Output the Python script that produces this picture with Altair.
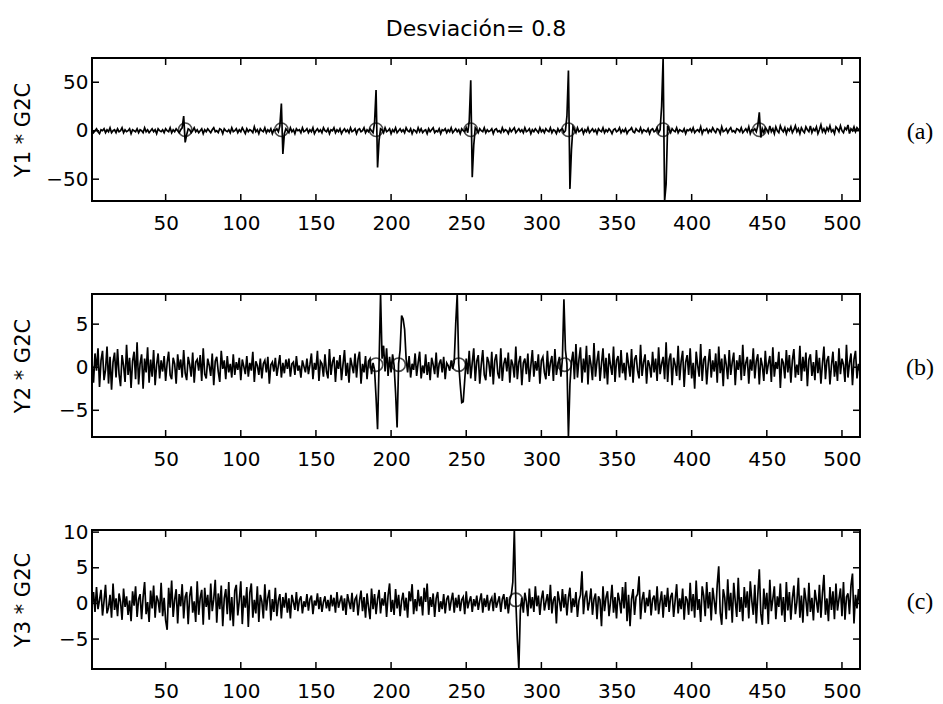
import altair as alt
import pandas as pd

XTICKS = [50, 100, 150, 200, 250, 300, 350, 400, 450, 500]

# ---- panel (a): Y1 * G2C ----
Y1 = [
    1, -2, 0, 2, -1, -3, 1, 0, 2, -2, 1, -1, 3, -2, 0, 1,
    -2, 2, -1, 0, 3, -2, 1, -1, 0, 2, -3, 1, 0, -1, 2, -2,
    1, 0, -2, 3, -1, 1, -2, 0, 2, -1, 1, -3, 2, 0, -1, 1,
    -2, 2, 0, -1, 3, -2, 1, -1, 2, 0, -2, 1, 3, 15, -12, -4,
    2, 1, -2, 0, 3, -1, 1, -2, 0, 2, -3, 1, -1, 2, 0, -2,
    1, 3, -1, 0, -2, 2, 1, -3, 2, 0, -1, 1, -2, 3, -1, 0,
    2, -2, 1, -1, 3, 0, -3, 2, -1, 1, 0, -2, 4, -1, 1, -3,
    2, 0, -1, 3, -2, 1, -1, 2, -3, 1, 0, 2, -1, 5, 28, -24,
    -3, 2, 0, -2, 3, -1, 1, -3, 2, 0, 1, -2, 3, -1, 0, 2,
    -2, 1, -1, 3, -3, 0, 2, -1, 1, -2, 3, 0, -1, 2, -3, 1,
    0, 3, -2, 1, -1, 2, -3, 0, 2, -1, 1, -2, 3, -1, 0, 2,
    -3, 1, 2, -1, 0, 3, -2, 1, -1, 2, 0, -2, 8, 42, -38, -10,
    2, 1, -2, 3, -1, 0, 2, -3, 1, -1, 3, -2, 0, 2, -1, 1,
    -2, 3, 0, -1, 2, -3, 1, 0, -2, 3, -1, 2, -2, 0, 1, -3,
    2, -1, 1, 3, -2, 0, -1, 2, -3, 1, 0, 2, -2, 1, -1, 3,
    -2, 0, 2, -1, 1, -3, 2, 0, -1, 3, -2, 10, 52, -48, -15, 3,
    1, -2, 2, 0, -1, 3, -2, 1, -1, 0, 2, -3, 1, 2, -1, 0,
    -2, 3, -1, 1, 0, -3, 2, -1, 1, 3, -2, 0, 2, -1, 1, -2,
    3, -1, 0, 2, -3, 1, -1, 2, 0, -2, 3, -1, 1, -2, 2, 0,
    -1, 3, -2, 1, 0, -3, 2, -1, 1, 2, -2, 0, 15, 62, -60, -20,
    4, 1, -2, 3, -1, 0, 2, -3, 1, -1, 3, -2, 0, 2, -1, 1,
    -3, 2, 0, -1, 3, -2, 1, -1, 2, 0, -3, 1, 2, -1, 0, 3,
    -2, 1, -1, 2, -3, 0, 1, 3, -1, -2, 2, 0, -1, 3, -2, 1,
    0, -1, 2, -3, 1, 2, -1, 0, 3, -2, 1, 25, 75, -72.5, -55, 5,
    1, -2, 2, 0, -1, 3, -2, 1, 0, -1, 2, -3, 1, 0, 2, -1,
    3, -2, 0, 1, -1, 4, -3, 1, 0, 2, -2, 1, -1, 3, 0, -2,
    2, 1, -3, 4, -1, 0, 2, -2, 1, 3, -1, 0, -2, 2, 1, -1,
    3, -2, 0, 2, -1, 4, -3, 1, 0, 2, -1, 5, 19, -7, 2, -2,
    3, 1, -2, 5, -1, 2, -3, 4, 0, -2, 5, 1, -1, 3, -3, 2,
    0, 4, -2, 1, 5, -1, 2, -3, 3, 0, -2, 4, 1, -1, 5, -2,
    2, 0, 4, -3, 1, 6, -1, 2, -2, 3, 0, 5, -1, 1, -3, 4,
    2, -1, 5, 0, -2, 3, 1, 6, -3, 2, 0, 4, -1, 3, 1, 2,
]
C1_X = [63, 127, 190, 253, 318, 381, 445]
C1_Y = [1, 1, 1, 1, 1, 1, 1]
YT1 = [-50, 0, 50]

# ---- panel (b): Y2 * G2C ----
Y2 = [
    0.5, -1.8, 1.6, -0.4, 2.2, -2.3, 0.8, 1.9, -1.5, -0.3, 2.4, -1.9, 1.2, -2.6, 0.6, 1.7,
    -1.2, 2.1, -0.8, -2.2, 1.4, 0.2, -1.7, 2.6, -0.9, 1.1, -2.4, 0.7, 1.8, -1.4, 2.9, -2.0,
    0.4, 1.5, -2.5, 1.0, -0.6, 2.3, -1.8, 0.9, -1.1, 2.0, -2.1, 0.3, 1.6, -1.3, 0.8, -0.5,
    1.3, -1.6, 0.5, 1.8, -0.9, -1.4, 1.1, 0.4, -1.9, 1.5, -0.3, 0.9, -1.2, 2.0, -0.7, -1.5,
    1.2, 0.3, -1.1, 1.7, -1.8, 0.6, 0.9, -0.4, 1.4, -1.6, 2.2, -0.8, -1.3, 1.0, 0.2, -1.0,
    1.6, -2.1, 0.7, 1.2, -0.5, -1.7, 1.9, -0.2, 0.8, -1.4, 1.3, -0.6, 0.4, -1.2, 1.5, -0.9,
    0.6, -0.3, 1.1, -1.5, 0.9, 0.1, -0.8, 1.3, -1.1, 0.5, -0.4, 1.8, -1.7, 0.7, 0.2, -0.9,
    1.0, -1.3, 0.4, 0.8, -0.6, 1.2, -1.9, 0.3, 0.6, -0.5, 1.1, -1.0, 0.2, 1.4, -1.2, 0.5,
    -0.7, 0.9, -0.2, 1.0, -1.1, 0.4, 0.6, -0.9, 1.3, -0.4, 0.2, -1.2, 0.8, 0.1, -0.6, 1.0,
    -0.8, 0.3, 1.6, -1.4, 0.5, -0.3, 1.9, -1.6, 0.7, 0.4, -1.1, 1.5, -0.5, -1.3, 2.1, -0.9,
    0.6, 1.2, -1.7, 0.8, -0.2, 1.4, -1.5, 0.3, 2.0, -1.0, 0.5, -1.8, 1.1, 0.2, -0.7, 1.6,
    -1.2, 0.9, 1.8, -1.9, 0.4, -0.6, 1.3, -1.4, 0.7, 1.0, -0.8, 0.5, -0.3, -3.5, -7.2, 0.4,
    8.5, 1.0, 2.5, -0.5, 2.2, -1.0, 1.2, -0.6, 1.5, 0.2, -3.0, -7.0, 0.4, 2.0, 6.0, 5.6,
    4.4, 1.0, -0.6, 1.3, -1.2, 0.4, -0.3, 1.6, -1.0, 0.5, 1.8, -1.3, 0.2, -0.7, 1.5, -0.9,
    0.6, -1.5, 1.1, 0.3, -0.8, 1.7, -1.2, 0.4, 0.9, -0.6, 1.2, -1.4, 0.5, 0.2, -0.4, 0.8,
    -0.2, 0.6, 5.0, 8.5, 0.4, -2.0, -4.1, -4.0, -1.5, 1.0, -0.8, 1.9, -1.3, 0.5, 2.2, -1.6,
    0.7, 1.4, -1.9, 0.3, 2.0, -0.9, -1.5, 1.2, 0.6, -1.1, 1.8, -2.0, 0.8, 1.5, -0.7, -1.3,
    2.2, -1.6, 0.4, 1.1, -0.5, 1.7, -1.8, 0.9, 0.3, -1.2, 2.4, -1.4, 0.6, 1.3, -2.1, 0.5,
    1.0, -0.8, 1.6, -1.7, 0.2, 2.0, -1.1, 0.7, -0.4, 1.5, -1.9, 0.8, 1.2, -0.6, -1.4, 1.9,
    -1.0, 0.5, 1.3, -1.6, 2.1, -0.9, 0.4, 1.2, -1.1, 1.0, 7.9, 2.0, 0.4, -8.1, -2.0, 0.6,
    1.8, -1.4, 2.7, -1.2, 0.9, 2.3, -1.8, 1.0, -0.6, 2.5, -2.0, 1.4, 0.3, -1.5, 2.8, -1.1,
    0.7, 1.9, -1.6, 0.4, 2.2, -1.3, 1.1, -2.0, 1.6, 0.2, -0.9, 2.4, -1.7, 0.8, 1.3, -1.2,
    2.0, -0.7, 0.5, -1.5, 1.7, 0.3, -1.1, 2.1, -1.8, 0.9, 1.4, -0.4, -1.3, 2.6, -1.0, 0.6,
    1.5, -1.9, 0.8, 0.2, -1.2, 1.8, -0.6, 1.0, -1.6, 2.3, -0.8, 0.4, 1.2, -1.4, 2.9, -1.7,
    0.9, 1.6, -2.1, 1.1, 0.3, -1.0, 2.5, -1.5, 0.7, 1.9, -2.3, 0.6, 1.4, -0.9, 2.2, -1.3,
    0.5, -2.5, 1.8, 0.2, -1.1, 2.7, -1.6, 0.9, 1.3, -2.0, 0.4, 2.1, -1.2, 0.8, -0.5, 1.6,
    -1.8, 2.4, -0.7, 1.0, -2.2, 1.5, 0.3, -1.4, 2.0, -0.9, 0.6, 1.7, -2.1, 0.8, -0.3, 1.4,
    -1.5, 2.6, -1.0, 0.5, 1.2, -1.9, 0.9, -0.4, 2.2, -1.3, 0.7, 1.5, -2.0, 1.1, 0.2, -1.6,
    1.9, -0.8, 0.4, 1.3, -1.7, 2.3, -1.1, 0.6, -0.2, 1.8, -2.4, 1.0, 0.5, -1.3, 2.0, -0.6,
    1.4, -1.8, 0.8, 2.1, -1.2, 0.3, -0.9, 2.5, -1.6, 1.2, -0.5, 1.7, -2.2, 0.9, 1.5, -1.0,
    0.6, -1.5, 2.0, -0.7, 1.1, -1.9, 0.4, 2.4, -1.4, 0.8, 1.3, -2.0, 0.2, 1.8, -1.1, 0.7,
    -1.6, 2.2, -0.8, 1.0, 0.3, -1.7, 2.6, -1.2, 0.5, 1.6, -2.1, 0.9, 1.9, -1.3, 0.4, -0.6,
]
C2_X = [190, 205, 245, 315.5]
C2_Y = [0.3, 0.3, 0.3, 0.3]
YT2 = [-5, 0, 5]

# ---- panel (c): Y3 * G2C ----
Y3 = [
    -0.4, 1.6, -1.2, 2.3, -0.8, 0.5, 1.9, -1.7, 0.3, 2.6, -1.4, -0.6, 1.2, -2.0, 2.8, -0.9,
    0.7, -1.8, 1.4, 0.2, -2.3, 2.1, -0.5, 1.0, -1.6, 0.4, -2.5, 1.7, -0.3, 2.4, -1.9, 0.6,
    1.3, -2.2, 0.9, 3.0, -1.5, 0.2, -2.6, 1.8, -0.7, 2.5, -2.0, 1.1, 0.4, -1.3, 2.9, -1.8,
    0.8, -2.4, -3.7, 2.2, -0.6, 3.2, -1.9, 0.5, 2.0, -2.8, 1.3, -0.4, 2.7, -2.1, 0.9, 1.6,
    -2.9, 1.0, 2.4, -1.3, 0.3, -2.6, 3.1, -1.6, 0.8, 1.9, -3.0, 2.2, -0.5, 1.2, -2.3, 2.8,
    -1.1, 0.6, 3.3, -2.7, 1.4, -0.8, 2.5, -3.2, 0.7, 2.0, -1.5, 3.0, -2.4, 0.9, -3.2, 1.8,
    2.6, -1.7, 0.4, 3.1, -2.9, 1.1, -0.6, 2.3, -3.3, 1.5, 2.8, -2.0, 0.5, -1.4, 2.4, -2.6,
    1.2, 0.3, -2.1, 2.7, -1.0, 0.8, 1.9, -2.4, 0.6, -1.2, 2.2, -1.8, 0.4, 1.3, -2.1, 0.9,
    -0.6, 1.5, -1.3, 0.7, -2.1, 1.2, 0.2, -0.9, 1.6, -1.1, 0.5, 1.0, -1.4, 0.3, -0.5, 1.3,
    -1.0, 0.6, 1.1, -1.5, 0.4, -0.3, 1.4, -0.8, 0.9, -1.2, 0.2, 1.0, -0.7, 0.5, -1.1, 1.2,
    -0.4, 0.8, -1.3, 1.6, -0.6, 0.3, 1.1, -1.0, 0.7, -1.6, 1.3, 0.2, -0.8, 1.5, -1.2, 0.6,
    1.0, -1.7, 0.4, 1.8, -1.1, 0.9, -2.0, 1.4, -0.5, -2.2, 2.1, -0.8, 1.3, -1.5, 0.6, 1.9,
    -1.4, 0.7, -0.3, 1.6, -1.9, 1.1, 2.8, -1.2, 0.5, -1.6, 2.0, -0.7, 1.2, -1.8, 0.4, 1.5,
    -1.0, 0.8, -2.0, 1.7, 0.3, 2.7, -1.5, 0.6, -1.1, 1.9, -0.4, 1.0, -1.7, 2.2, 0.2, 2.8,
    -1.6, 0.9, -0.5, 1.4, -1.9, 0.7, 1.6, -1.2, 0.3, -0.8, 1.3, -1.4, 0.6, 1.1, -1.0, 0.4,
    1.5, -1.3, 0.8, -0.6, 1.2, -1.1, 0.5, 0.9, -1.5, 1.7, -0.7, 0.3, 1.0, -1.2, 0.6, -0.4,
    1.1, -0.9, 0.4, 1.4, -1.3, 0.7, -0.5, 1.2, -1.0, 0.3, 0.8, -1.1, 1.5, -0.6, 0.2, 1.0,
    -1.2, 0.6, 1.3, -0.8, 0.9, -1.4, 0.5, 1.2, 3.0, 10.3, 0.3, -5.0, -9.2, -1.0, 0.8, -1.3,
    1.5, 0.3, -1.8, 2.1, -0.7, 0.9, -1.2, 2.4, -0.4, 1.1, -1.6, 0.6, 1.8, -1.0, 0.2, 1.3,
    -0.9, 2.6, -1.4, 0.5, 1.0, -2.8, 1.7, 0.4, -1.1, 2.0, -0.6, 1.3, -1.7, 0.8, 2.2, -1.3,
    0.7, -0.5, 1.6, -1.9, 0.4, 1.2, 4.5, -1.5, 0.9, 1.8, -1.0, 0.3, 2.1, -1.6, 0.6, 1.4,
    -2.2, 1.0, 0.5, -3.2, 2.4, -1.1, 0.8, 1.7, -1.8, 0.2, 2.6, -1.3, 0.9, -2.1, 1.5, 0.4,
    -1.4, 2.3, -0.7, 3.0, -2.5, 1.2, -3.2, 0.6, 2.0, -1.6, 0.9, 1.3, 3.8, -2.2, 0.5, 1.6,
    -1.3, 0.8, -0.4, 1.9, -1.7, 0.6, 1.1, -1.0, 2.4, -1.5, 0.3, 1.7, -2.0, 1.2, -0.5, 2.2,
    -1.2, 0.9, 1.5, -1.9, 0.4, 2.7, -1.4, 0.7, -0.8, 2.1, -2.3, 1.0, 0.5, -1.6, 2.9, -1.1,
    1.3, -2.0, 3.2, -0.9, 0.6, -2.6, 2.4, 1.1, -1.8, 3.0, -0.7, 1.6, -2.4, 2.2, 0.4, -1.5,
    2.6, 5.2, -1.3, -3.0, 2.0, 0.8, -2.2, 3.4, -1.0, 1.5, -2.7, 2.9, 0.3, -1.9, 3.6, -1.2,
    0.9, -2.5, 2.3, -0.6, 1.7, -2.1, 3.1, 0.4, -1.6, 2.6, -2.8, 1.2, 4.8, -1.4, -3.0, 2.1,
    -0.8, 1.5, -2.9, 3.3, -1.1, 0.6, 2.4, -2.2, 1.0, -0.5, 2.8, -1.7, 0.9, -2.6, 3.0, -1.0,
    1.6, -2.3, 0.7, 2.5, -1.5, 0.2, 3.6, -2.0, 1.1, -2.7, 2.2, 0.5, -1.8, 2.9, -1.2, 0.8,
    -2.4, 1.9, 0.4, -1.3, 2.6, -2.0, 1.4, 4.0, -1.6, 0.7, -2.5, 2.3, -0.9, 1.7, -2.2, 2.8,
    -1.0, 0.6, 2.1, -1.8, 3.0, -2.3, 0.9, 1.4, -1.5, 2.5, 4.2, -2.8, 1.2, -0.7, 2.0, -0.4,
]
C3_X = [283]
C3_Y = [0.5]
YT3 = [-5, 0, 5, 10]

FONT = "DejaVu Sans"
W = 768
TK = 7


def panel(vals, cx, cy, yticks, ytitle, tag, height, title=None):
    df = pd.DataFrame({"x": list(range(1, len(vals) + 1)), "y": vals})
    xs = alt.Scale(domain=[1, 512], nice=False, zero=False)
    ys = alt.Scale(domain=[min(vals), max(vals)], nice=False, zero=False)
    ax = alt.Axis(
        values=XTICKS, ticks=False, tickSize=0, domain=False, grid=False,
        labelFont=FONT, labelFontSize=20, labelColor="black",
        labelPadding=12, title=None)
    ay = alt.Axis(
        values=yticks, ticks=False, tickSize=0, domain=False, grid=False,
        labelFont=FONT, labelFontSize=20, labelColor="black",
        labelPadding=4, title=ytitle, titleFont=FONT, titleFontSize=21,
        titleFontWeight="normal", titleColor="black", titleX=-69,
        titleY=height / 2, titleAngle=270, titleBaseline="middle",
        titleAlign="center")
    line = alt.Chart(df).mark_line(color="black", strokeWidth=1.7).encode(
        x=alt.X("x:Q", scale=xs, axis=ax),
        y=alt.Y("y:Q", scale=ys, axis=ay),
    )
    circ = alt.Chart(pd.DataFrame({"x": cx, "y": cy})).mark_point(
        shape="circle", filled=False, size=180, color="black", strokeWidth=1.6
    ).encode(x=alt.X("x:Q", scale=xs, axis=ax), y=alt.Y("y:Q", scale=ys, axis=ay))
    xt = pd.DataFrame({"x": XTICKS})
    yt = pd.DataFrame({"y": yticks})
    xb = alt.Chart(xt).mark_rule(color="black", strokeWidth=1.5).encode(
        x=alt.X("x:Q", scale=xs, axis=ax), y=alt.value(height), y2=alt.value(height - TK))
    xtp = alt.Chart(xt).mark_rule(color="black", strokeWidth=1.5).encode(
        x=alt.X("x:Q", scale=xs, axis=ax), y=alt.value(0), y2=alt.value(TK))
    yl = alt.Chart(yt).mark_rule(color="black", strokeWidth=1.5).encode(
        y=alt.Y("y:Q", scale=ys, axis=ay), x=alt.value(0), x2=alt.value(TK))
    yr = alt.Chart(yt).mark_rule(color="black", strokeWidth=1.5).encode(
        y=alt.Y("y:Q", scale=ys, axis=ay), x=alt.value(W), x2=alt.value(W - TK))
    lab = alt.Chart(pd.DataFrame({"t": [tag]})).mark_text(
        font="Liberation Serif", fontSize=24, color="black", align="center",
        baseline="middle"
    ).encode(text="t:N", x=alt.value(W + 60), y=alt.value(height / 2 + 2))
    props = dict(width=W, height=height)
    if title is not None:
        props["title"] = alt.TitleParams(title, font=FONT, fontSize=22,
                                         fontWeight="normal", color="black",
                                         offset=14)
    return alt.layer(line, circ, xb, xtp, yl, yr, lab).properties(**props)


pa = panel(Y1, C1_X, C1_Y, YT1, "Y1 * G2C", "(a)", 143, "Desviación= 0.8")
pb = panel(Y2, C2_X, C2_Y, YT2, "Y2 * G2C", "(b)", 143)
pc = panel(Y3, C3_X, C3_Y, YT3, "Y3 * G2C", "(c)", 139)

chart = alt.vconcat(pa, pb, pc, spacing=93, bounds="flush").properties(
    padding={"top": 8, "left": 3, "right": 0, "bottom": 0}
).configure_view(stroke="black", strokeWidth=2)

chart.save("out.html", embed_options={"renderer": "svg", "actions": False})
